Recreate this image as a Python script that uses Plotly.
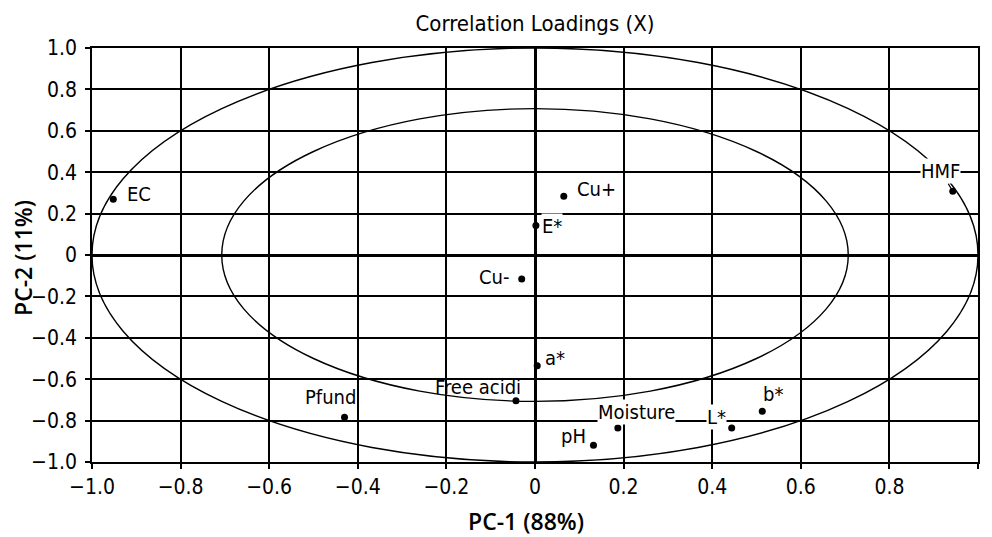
import plotly.graph_objects as go

# ---- data ----
labels = ["EC", "Cu+", "E*", "HMF", "Cu-", "a*", "Free acidi", "Pfund",
          "Moisture", "pH", "L*", "b*"]
pc1 = [-0.952, 0.065, 0.002, 0.943, -0.030, 0.005, -0.043, -0.430,
       0.187, 0.132, 0.444, 0.513]
pc2 = [0.269, 0.284, 0.143, 0.308, -0.116, -0.535, -0.704, -0.784,
       -0.836, -0.919, -0.836, -0.755]
tick_vals = [-1.0, -0.8, -0.6, -0.4, -0.2, 0.0, 0.2, 0.4, 0.6, 0.8, 1.0]
tick_text = ["\u22121.0", "\u22120.8", "\u22120.6", "\u22120.4", "\u22120.2", "0",
             "0.2", "0.4", "0.6", "0.8", "1.0"]
ellipse_radii = [1.0, 0.7071]  # 100% and 50% explained variance

# ---- label placement styles (pixel offsets) ----
label_style = {
    "EC":         dict(xanchor="left",   xshift=13,  yshift=5),
    "Cu+":        dict(xanchor="left",   xshift=12,  yshift=7),
    "E*":         dict(xanchor="left",   xshift=5,   yshift=-1),
    "Cu-":        dict(xanchor="right",  xshift=-12, yshift=2),
    "a*":         dict(xanchor="left",   xshift=7,   yshift=8),
    "Free acidi": dict(xanchor="right",  xshift=6,   yshift=14),
    "Pfund":      dict(xanchor="center", xshift=-14, yshift=20),
    "Moisture":   dict(xanchor="center", xshift=19,  yshift=16),
    "pH":         dict(xanchor="right",  xshift=-6,  yshift=9),
    "L*":         dict(xanchor="right",  xshift=-5,  yshift=11),
    "b*":         dict(xanchor="center", xshift=11,  yshift=17),
}
no_bg = {"Free acidi"}

FONT = "DejaVu Sans Condensed, DejaVu Sans"
TITLE_FONT = "Open Sans"
BLACK = "#000000"

fig = go.Figure()
fig.add_trace(go.Scatter(
    x=pc1, y=pc2, mode="markers",
    marker=dict(color=BLACK, size=7),
    showlegend=False, hoverinfo="text", text=labels,
))

shapes = []
for r in ellipse_radii:
    shapes.append(dict(type="circle", xref="x", yref="y",
                       x0=-r, x1=r, y0=-r, y1=r,
                       line=dict(color=BLACK, width=1.4), layer="above"))

annotations = []
for lab, x, y in zip(labels, pc1, pc2):
    if lab == "HMF":
        annotations.append(dict(
            x=x, y=y, xref="x", yref="y", text=lab, showarrow=True,
            arrowhead=0, arrowwidth=1.2, arrowcolor=BLACK, ax=-12, ay=-20,
            font=dict(family=FONT, size=20, color=BLACK),
            bgcolor="white", borderpad=0, standoff=3,
        ))
        continue
    st = label_style[lab]
    annotations.append(dict(
        x=x, y=y, xref="x", yref="y", text=lab, showarrow=False,
        xanchor=st["xanchor"], yanchor="middle",
        xshift=st["xshift"], yshift=st["yshift"],
        font=dict(family=FONT, size=20, color=BLACK),
        bgcolor=None if lab in no_bg else "white", borderpad=0,
    ))

# axis titles
annotations.append(dict(
    text="PC-1 (88%)", xref="paper", yref="paper", x=0.5, y=0,
    xanchor="center", yanchor="middle", yshift=-59, xshift=-9, showarrow=False,
    font=dict(family=TITLE_FONT, size=23, color=BLACK, weight=600),
))
annotations.append(dict(
    text="PC-2 (11%)", xref="paper", yref="paper", x=0, y=0.5,
    xanchor="center", yanchor="middle", xshift=-69, yshift=-3, textangle=-90,
    showarrow=False, font=dict(family=TITLE_FONT, size=23, color=BLACK, weight=600),
))

axis_common = dict(
    range=[-1, 1], tickvals=tick_vals, ticktext=tick_text,
    showgrid=True, gridcolor=BLACK, gridwidth=1.7,
    zeroline=True, zerolinecolor=BLACK, zerolinewidth=2.5,
    showline=True, linecolor=BLACK, linewidth=1.7, mirror=True,
    ticks="outside", ticklen=5, tickcolor=BLACK, tickwidth=1.5,
    tickfont=dict(family=FONT, size=21, color=BLACK),
    fixedrange=True,
)

fig.update_layout(
    width=992, height=537,
    margin=dict(l=92, r=12, t=48, b=75),
    paper_bgcolor="white", plot_bgcolor="white",
    title=dict(text="Correlation Loadings (X)", x=0.5, xref="paper",
               y=1 - 23 / 537, yanchor="middle", xanchor="center",
               font=dict(family=FONT, size=22, color=BLACK)),
    xaxis=dict(**axis_common),
    yaxis=dict(**axis_common, ticklabelstandoff=4),
    shapes=shapes,
    annotations=annotations,
    showlegend=False,
)

fig.write_html("out.html")
